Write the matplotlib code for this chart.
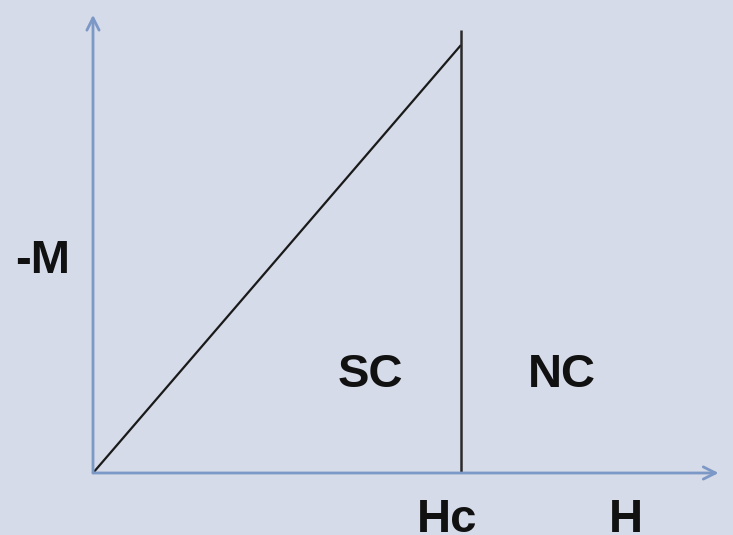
import matplotlib.pyplot as plt

# Meissner state: magnetization grows linearly with H up to Hc
h_line = [0.0, 1.0]
m_line = [0.0, 1.163]
hc = 1.0
hc_top = 1.204

# axis extents (arrow tips)
h_axis_end = 1.70
m_axis_end = 1.245

labels = ["-M", "SC", "NC", "Hc", "H"]
# (x, baseline y) in data units
label_pos = [(-0.136, 0.5435), (0.7527, 0.2337), (1.2745, 0.2337), (0.962, -0.160), (1.448, -0.160)]

bg = "#d5dbe8"
axis_col = "#7c98c6"

fig = plt.figure(figsize=(7.33, 5.35), dpi=100, facecolor=bg)
ax = fig.add_axes([0, 0, 1, 1])
ax.set_facecolor(bg)
ax.set_xlim(-93 / 368, 640 / 368)
ax.set_ylim(-62 / 368, 473 / 368)
ax.axis("off")

# axes with arrows
arrow = dict(arrowstyle="->", color=axis_col, lw=2, mutation_scale=22, shrinkA=0, shrinkB=0)
ax.annotate("", xy=(h_axis_end, 0), xytext=(0, 0), arrowprops=arrow)
ax.annotate("", xy=(0, m_axis_end), xytext=(0, 0), arrowprops=arrow)

# curves
ax.plot(h_line, m_line, color="#1a1a1a", lw=1.6, solid_capstyle="butt")
ax.plot([hc, hc], [0, hc_top], color="#2a2a2a", lw=1.8, solid_capstyle="butt")

for txt, (x, y) in zip(labels, label_pos):
    ax.text(x, y, txt, ha="center", va="baseline", fontsize=34, fontweight="bold",
            family="Liberation Sans", color="#111111")

fig.savefig("out.png", dpi=100, facecolor=bg)
